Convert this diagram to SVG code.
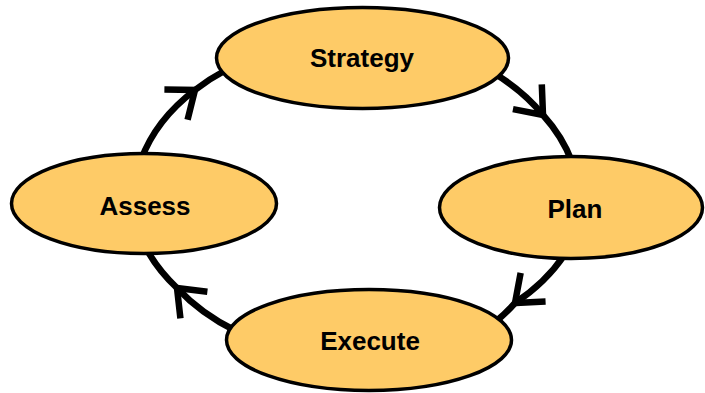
<svg xmlns="http://www.w3.org/2000/svg" width="705" height="393" viewBox="0 0 705 393">
<style>
.node{fill:#FECB67;stroke:#000;stroke-width:3.5}
.lbl{font-family:"Liberation Sans",Arial,sans-serif;font-weight:bold;font-size:26px;fill:#000;text-anchor:middle}
.conn{fill:none;stroke:#000;stroke-width:6.5;marker-mid:url(#arr)}
</style>
<defs>
<marker id="arr" markerUnits="userSpaceOnUse" orient="auto" viewBox="-40 -30 50 60" refX="0" refY="0" markerWidth="50" markerHeight="60" overflow="visible">
<path d="M -24,-19 L 0,0 L -24,19" fill="none" stroke="#000" stroke-width="6.5" stroke-linejoin="miter"/>
</marker>
</defs>
<g id="connectors">
<path class="conn" d="M 141 160 A 218 161 0 0 1 195 90 A 218 161 0 0 1 226 70"/>
<path class="conn" d="M 492 72 A 218 161 0 0 1 543 115 A 218 161 0 0 1 572 162"/>
<path class="conn" d="M 565 254 A 218 161 0 0 1 515 303 A 218 161 0 0 1 494 323"/>
<path class="conn" d="M 236 331 A 218 161 0 0 1 177 288 A 218 161 0 0 1 147 250"/>
</g>
<g id="strategy"><ellipse class="node" cx="362.5" cy="58" rx="146" ry="50.5"/><text class="lbl" x="362" y="67">Strategy</text></g>
<g id="plan"><ellipse class="node" cx="571" cy="207.5" rx="131.5" ry="51"/><text class="lbl" x="575" y="218">Plan</text></g>
<g id="assess"><ellipse class="node" cx="144" cy="203.5" rx="132.5" ry="50"/><text class="lbl" x="145" y="215">Assess</text></g>
<g id="execute"><ellipse class="node" cx="369" cy="340" rx="142.5" ry="50.5"/><text class="lbl" x="370" y="350">Execute</text></g>
</svg>
